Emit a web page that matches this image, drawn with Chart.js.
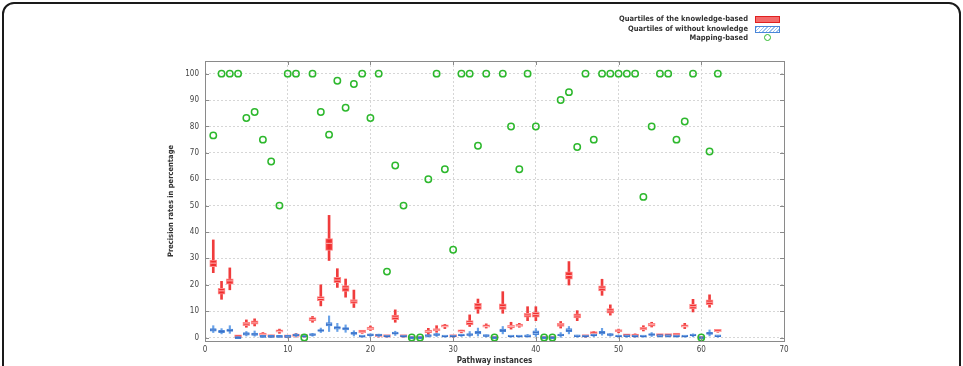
<!DOCTYPE html>
<html>
<head>
<meta charset="utf-8">
<script src="https://cdn.jsdelivr.net/npm/chart.js@4.4.1/dist/chart.umd.min.js"></script>
<style>
    html, body { margin: 0; padding: 0; background: #fff; overflow: hidden; }
    #wrap { position: relative; width: 963px; height: 366px; }
    #frame {
        position: absolute; left: 2px; top: 2px; width: 955px; height: 420px;
        border: 2px solid #1a1a1a; border-radius: 12px;
    }
    #chart { position: absolute; left: 0; top: 0; }
    .legend { position: absolute; right: 215px; font: bold 7.5px "DejaVu Sans Condensed", "DejaVu Sans", sans-serif; color: #333; text-align: right; white-space: nowrap; }
    .sample { position: absolute; left: 755px; }
</style>
</head>
<body>
<div id="wrap">
    <div id="frame"></div>
    <canvas id="chart" width="963" height="366"></canvas>
    <div class="legend" style="top:14px">Quartiles of the knowledge-based</div>
    <div class="legend" style="top:24px">Quartiles of without knowledge</div>
    <div class="legend" style="top:33px">Mapping-based</div>
    <div class="sample" style="top:16px;width:23px;height:5px;background:#f36b6b;border:1px solid #e02020;"></div>
    <div class="sample" style="top:26px;width:23px;height:5px;border:1px solid #4a86d8;background:repeating-linear-gradient(135deg,#9cc3f0 0 1px,#fff 1px 2.5px);"></div>
    <div class="sample" style="top:34px;left:764px;width:5px;height:5px;border:1.5px solid #2db82d;border-radius:50%;"></div>
</div>
<script>
// ===============================
// Data
// ===============================

const pathways = [];
for (let i = 1; i <= 62; i++) pathways.push(i);

const mappingBased = [
    76.6, 100, 100, 100, 83.2, 85.5, 75, 66.7, 50, 100,
    100, 0, 100, 85.5, 76.9, 97.3, 87.1, 96.1, 100, 83.2,
    100, 25, 65.2, 50, 0, 0, 60, 100, 63.8, 33.3,
    100, 100, 72.7, 100, 0, 100, 80, 63.8, 100, 80,
    0, 0, 90, 93, 72.2, 100, 75, 100, 100, 100,
    100, 100, 53.3, 80, 100, 100, 75, 81.9, 100, 0,
    70.5, 100
];

// knowledge-based quartiles (red)
const kbMin = [
    24.6, 14.5, 18.1, 0, 3.9, 4.4, 0.5, 0.1, 1.6, 0,
    0.2, 0.1, 5.8, 12.0, 29.2, 19.0, 15.3, 11.4, 1.6, 2.7,
    0.2, 0.1, 5.8, 0.1, 0, 0, 1.0, 2.0, 3.4, 0.1,
    1.8, 4.2, 9.2, 3.6, 0, 9.2, 3.2, 3.9, 6.4, 6.4,
    0, 0, 3.6, 19.9, 6.4, 0.1, 1.0, 16.0, 8.5, 1.8,
    0.3, 0.2, 2.5, 4.0, 0.4, 0.4, 0.6, 3.4, 9.7, 0,
    11.5, 2.0
];
const kbQ1 = [
    26.9, 16.4, 20.2, 0.1, 4.5, 5.1, 0.8, 0.2, 2.0, 0.1,
    0.4, 0.2, 6.3, 14.0, 33.0, 20.8, 17.5, 12.9, 1.9, 3.0,
    0.3, 0.2, 6.8, 0.2, 0, 0, 1.8, 2.5, 3.9, 0.2,
    2.0, 4.8, 10.7, 3.9, 0, 10.7, 3.7, 4.2, 7.7, 7.7,
    0, 0, 4.2, 22.1, 7.4, 0.2, 1.3, 17.7, 9.2, 2.1,
    0.5, 0.4, 2.9, 4.3, 0.6, 0.6, 0.8, 3.9, 10.9, 0,
    12.5, 2.2
];
const kbMedian = [
    28.2, 17.7, 21.5, 0.2, 5.2, 5.6, 1.2, 0.4, 2.3, 0.3,
    0.6, 0.5, 6.8, 14.8, 35.7, 21.8, 18.8, 13.8, 2.1, 3.4,
    0.5, 0.3, 7.7, 0.3, 0, 0, 2.3, 2.9, 4.2, 0.4,
    2.3, 5.7, 11.9, 4.2, 0, 11.7, 4.2, 4.5, 8.5, 8.7,
    0, 0, 4.8, 23.5, 8.2, 0.4, 1.6, 18.7, 10.1, 2.5,
    0.8, 0.6, 3.2, 4.9, 0.8, 0.8, 1.0, 4.2, 11.7, 0,
    13.4, 2.4
];
const kbQ3 = [
    29.4, 18.7, 22.3, 0.4, 5.8, 6.3, 1.6, 0.7, 2.8, 0.5,
    0.9, 1.0, 7.6, 15.5, 37.5, 22.8, 19.7, 14.4, 2.4, 3.9,
    0.7, 0.5, 8.5, 0.5, 0, 0, 2.8, 3.4, 4.6, 0.6,
    2.6, 6.4, 13.0, 4.6, 0, 12.8, 4.5, 5.1, 9.2, 9.6,
    0, 0, 5.4, 24.9, 9.0, 0.6, 1.9, 19.6, 11.0, 2.9,
    1.0, 0.8, 3.5, 5.4, 1.0, 1.0, 1.2, 4.6, 12.6, 0,
    14.3, 2.7
];
const kbMax = [
    37.0, 21.3, 26.4, 0.6, 6.7, 7.1, 1.9, 0.9, 3.2, 0.6,
    1.6, 1.1, 8.0, 20.0, 46.3, 26.1, 22.2, 18.0, 2.6, 4.4,
    0.9, 0.6, 10.5, 0.6, 0, 0, 3.5, 4.5, 5.0, 0.7,
    2.8, 8.6, 14.6, 5.2, 0, 17.4, 5.8, 5.4, 11.7, 11.7,
    0, 0, 6.1, 28.8, 10.2, 0.7, 2.3, 22.1, 12.4, 3.2,
    1.2, 1.4, 4.5, 5.8, 1.2, 1.2, 1.6, 5.4, 14.5, 0,
    16.2, 2.9
];

// without-knowledge quartiles (blue)
const wkMin = [
    1.9, 1.4, 1.6, 0, 0.6, 0.5, 0, 0, 0, 0,
    0.3, 0.1, 0.5, 1.9, 2.3, 2.3, 2.0, 0.6, 0, 0.4,
    0.3, 0.1, 0.8, 0.1, 0, 0, 0.2, 0.4, 0.1, 0.1,
    0.4, 0.4, 0.6, 0.2, 0, 1.4, 0.1, 0.1, 0.1, 0.4,
    0, 0, 0.1, 1.4, 0.1, 0.1, 0.3, 0.9, 0.5, 0,
    0.1, 0.1, 0.1, 0.4, 0.2, 0.2, 0.1, 0.1, 0.3, 0,
    0.6, 0.1
];
const wkQ1 = [
    2.4, 1.9, 2.3, 0, 0.9, 0.8, 0.1, 0.1, 0.1, 0.1,
    0.6, 0.3, 0.8, 2.3, 4.4, 3.2, 2.9, 1.2, 0.2, 0.7,
    0.6, 0.2, 1.3, 0.2, 0, 0, 0.4, 0.8, 0.2, 0.2,
    0.6, 0.8, 1.4, 0.4, 0, 2.2, 0.2, 0.2, 0.3, 1.1,
    0, 0, 0.6, 2.2, 0.3, 0.2, 0.6, 1.4, 0.8, 0.2,
    0.3, 0.2, 0.2, 0.8, 0.4, 0.4, 0.2, 0.2, 0.6, 0,
    1.2, 0.3
];
const wkMedian = [
    2.9, 2.3, 2.7, 0, 1.4, 1.3, 0.3, 0.3, 0.3, 0.2,
    0.9, 0.5, 1.0, 2.7, 5.0, 3.8, 3.4, 1.6, 0.3, 1.0,
    0.9, 0.4, 1.6, 0.4, 0, 0, 0.6, 1.0, 0.4, 0.4,
    0.8, 1.0, 1.9, 0.6, 0, 2.7, 0.4, 0.4, 0.5, 1.9,
    0, 0, 0.9, 2.7, 0.5, 0.4, 0.8, 1.9, 1.0, 0.4,
    0.5, 0.4, 0.4, 1.1, 0.5, 0.5, 0.4, 0.4, 0.8, 0,
    1.6, 0.5
];
const wkQ3 = [
    3.4, 2.7, 3.2, 0.1, 1.9, 1.7, 0.4, 0.4, 0.4, 0.3,
    1.2, 0.7, 1.3, 3.0, 5.7, 4.2, 3.8, 2.0, 0.5, 1.2,
    1.1, 0.5, 1.9, 0.5, 0, 0, 0.8, 1.3, 0.5, 0.5,
    1.0, 1.3, 2.4, 0.8, 0, 3.2, 0.5, 0.5, 0.7, 2.6,
    0, 0, 1.2, 3.4, 0.7, 0.5, 1.0, 2.4, 1.2, 0.6,
    0.7, 0.5, 0.5, 1.4, 0.6, 0.6, 0.5, 0.5, 1.0, 0,
    2.0, 0.6
];
const wkMax = [
    4.5, 3.4, 4.5, 0.2, 2.3, 2.5, 0.5, 0.5, 0.5, 0.4,
    1.5, 0.9, 1.6, 3.6, 8.2, 5.4, 4.8, 2.6, 0.6, 1.4,
    1.3, 0.6, 2.4, 0.6, 0, 0, 1.0, 1.6, 0.6, 0.6,
    1.2, 2.3, 3.6, 1.0, 0, 4.2, 0.6, 0.6, 1.2, 3.4,
    0, 0, 1.9, 4.2, 0.9, 0.6, 1.3, 3.5, 1.5, 0.9,
    0.8, 0.7, 0.6, 1.9, 0.8, 0.8, 0.6, 0.6, 1.4, 0,
    2.9, 0.8
];

const xTicks = [0, 10, 20, 30, 40, 50, 60, 70];
const yTicks = [0, 10, 20, 30, 40, 50, 60, 70, 80, 90, 100];

// ===============================
// Helpers
// ===============================

const range = (lo, hi) => pathways.map((x, i) => ({ x: x, y: [lo[i], hi[i]] }));
const points = (vals) => pathways.map((x, i) => ({ x: x, y: vals[i] }));

const FONT = "'DejaVu Sans Condensed', 'DejaVu Sans', sans-serif";

// gnuplot-style border with inward tick marks
const borderPlugin = {
    id: "plotBorder",
    afterDatasetsDraw(chart) {
        const { ctx, chartArea: a, scales } = chart;
        ctx.save();
        ctx.strokeStyle = "#8a8a8a";
        ctx.lineWidth = 1;
        ctx.strokeRect(a.left + 0.5, a.top + 0.5, a.right - a.left, a.bottom - a.top);
        ctx.beginPath();
        yTicks.forEach(v => {
            const y = Math.round(scales.y.getPixelForValue(v)) + 0.5;
            ctx.moveTo(a.left, y); ctx.lineTo(a.left + 4, y);
            ctx.moveTo(a.right, y); ctx.lineTo(a.right - 4, y);
        });
        xTicks.forEach(v => {
            const x = Math.round(scales.x.getPixelForValue(v)) + 0.5;
            ctx.moveTo(x, a.bottom); ctx.lineTo(x, a.bottom - 4);
            ctx.moveTo(x, a.top); ctx.lineTo(x, a.top + 4);
        });
        ctx.stroke();
        ctx.restore();
    }
};

// ===============================
// Chart
// ===============================

new Chart(document.getElementById("chart"), {
    type: "bar",
    data: {
        datasets: [
            {
                type: "scatter",
                label: "Mapping-based",
                data: points(mappingBased),
                pointStyle: "circle",
                pointRadius: 3.2,
                borderColor: "#2db82d",
                backgroundColor: "rgba(0,0,0,0)",
                borderWidth: 1.5,
                order: 0
            },
            {
                type: "scatter",
                label: "wk median",
                data: points(wkMedian),
                pointStyle: "line",
                pointRadius: 3,
                borderColor: "#3a70c8",
                borderWidth: 1,
                order: 1
            },
            {
                label: "Quartiles of without knowledge",
                data: range(wkQ1, wkQ3),
                backgroundColor: "rgba(150,190,238,0.85)",
                borderColor: "#4a86d8",
                borderWidth: 1,
                borderSkipped: false,
                barThickness: 6,
                minBarLength: 2,
                grouped: false,
                order: 2
            },
            {
                label: "wk whisker",
                data: range(wkMin, wkMax),
                backgroundColor: "#6aa3e8",
                borderWidth: 0,
                barThickness: 1.5,
                grouped: false,
                order: 3
            },
            {
                type: "scatter",
                label: "kb median",
                data: points(kbMedian),
                pointStyle: "line",
                pointRadius: 3,
                borderColor: "#ffb3b3",
                borderWidth: 1,
                order: 4
            },
            {
                label: "Quartiles of the knowledge-based",
                data: range(kbQ1, kbQ3),
                backgroundColor: "rgba(240,40,40,0.9)",
                borderColor: "#ff8a8a",
                borderWidth: 1,
                borderSkipped: false,
                barThickness: 7,
                minBarLength: 2.5,
                grouped: false,
                order: 5
            },
            {
                label: "kb whisker",
                data: range(kbMin, kbMax),
                backgroundColor: "#f03c3c",
                borderWidth: 0,
                barThickness: 2,
                grouped: false,
                order: 6
            }
        ]
    },
    options: {
        responsive: false,
        animation: false,
        devicePixelRatio: 1,
        layout: {
            padding: { left: 163, right: 179, top: 61, bottom: 0 }
        },
        plugins: {
            legend: { display: false },
            tooltip: { enabled: false }
        },
        scales: {
            x: {
                type: "linear",
                min: 0,
                max: 70,
                offset: false,
                afterBuildTicks: axis => { axis.ticks = xTicks.map(v => ({ value: v })); },
                afterFit: axis => { axis.height = 25; },
                grid: { color: "#d6d6d6", drawTicks: false, offset: false },
                border: { display: false, dash: [2, 2] },
                ticks: { padding: 4, color: "#444", font: { family: FONT, size: 8 } },
                title: {
                    display: true,
                    text: "Pathway instances",
                    color: "#333",
                    padding: { top: 0, bottom: 0 },
                    font: { family: FONT, size: 8, weight: "bold" }
                }
            },
            y: {
                min: -1.3,
                max: 104.8,
                afterBuildTicks: axis => { axis.ticks = yTicks.map(v => ({ value: v })); },
                afterFit: axis => { axis.width = 42; },
                grid: { color: "#d6d6d6", drawTicks: false },
                border: { display: false, dash: [2, 2] },
                ticks: { padding: 6, color: "#444", font: { family: FONT, size: 8 } },
                title: {
                    display: true,
                    text: "Precision rates in percentage",
                    color: "#333",
                    padding: { top: 4, bottom: 4 },
                    font: { family: FONT, size: 7.5, weight: "bold" }
                }
            }
        }
    },
    plugins: [borderPlugin]
});
</script>
</body>
</html>
